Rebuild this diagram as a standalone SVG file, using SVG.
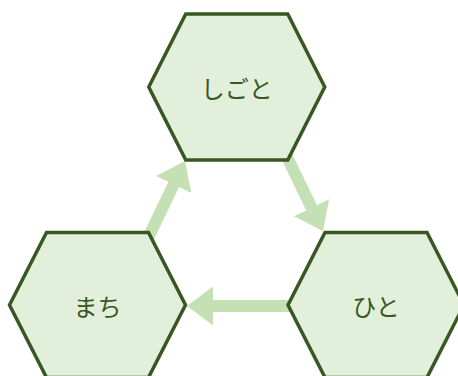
<svg xmlns="http://www.w3.org/2000/svg" width="458" height="376" viewBox="0 0 458 376">
<style>
.hex{fill:#e2efda;stroke:#385723;stroke-width:3.5;stroke-linejoin:miter}
.lbl{font-family:"Noto Sans CJK JP","Noto Sans",sans-serif;font-size:24px;fill:#385723;text-anchor:middle;dominant-baseline:central}
.arr{stroke:#c5e0b4;stroke-width:12;fill:none;marker-end:url(#ah)}
</style>
<defs>
<marker id="ah" viewBox="0 0 26 39" refX="6" refY="19.5" markerWidth="26" markerHeight="39" markerUnits="userSpaceOnUse" orient="auto">
<path d="M0,0 L26,19.5 L0,39 Z" fill="#c5e0b4"/>
</marker>
</defs>
<g id="connectors">
<line class="arr" x1="148" y1="238" x2="176.3" y2="179"/>
<line class="arr" x1="286" y1="155" x2="314.2" y2="213.1"/>
<line class="arr" x1="292" y1="306" x2="207" y2="306"/>
</g>
<g id="shigoto">
<polygon class="hex" points="148.75,87 185.75,14 287.75,14 324.75,87 287.75,160 185.75,160"/>
<text class="lbl" x="236.75" y="87">しごと</text>
</g>
<g id="machi">
<polygon class="hex" points="9.5,305 46.5,232.5 148.5,232.5 185.5,305 148.5,377.5 46.5,377.5"/>
<text class="lbl" x="97.5" y="305">まち</text>
</g>
<g id="hito">
<polygon class="hex" points="288,305 325,232.5 427,232.5 464,305 427,377.5 325,377.5"/>
<text class="lbl" x="376" y="305">ひと</text>
</g>
</svg>
